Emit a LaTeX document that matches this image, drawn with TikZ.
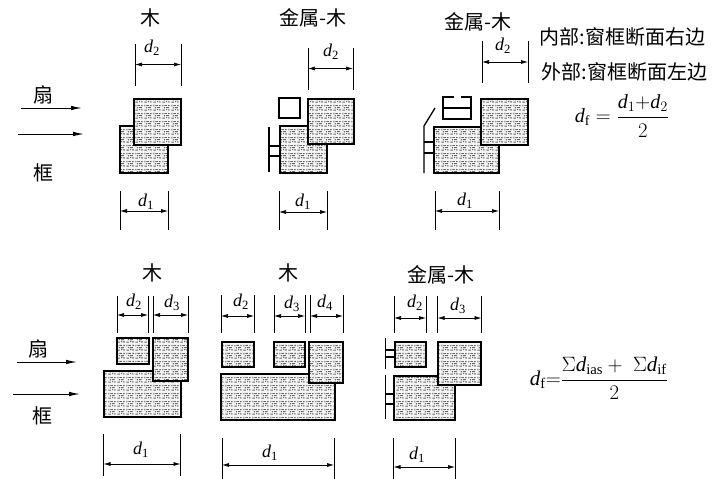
\documentclass[tikz,border=0pt]{standalone}
\usepackage{amsmath}
\usepackage{fontspec}
\setmainfont{Liberation Serif}
\newfontfamily\cjk{Noto Sans CJK SC}
\usetikzlibrary{patterns,arrows.meta}
\definecolor{hatchgray}{gray}{0.4}
\pgfdeclarepatternformonly{mottle}{\pgfqpoint{0pt}{0pt}}{\pgfqpoint{9pt}{8pt}}{\pgfqpoint{9pt}{8pt}}{
    \pgfpathrectangle{\pgfqpoint{0.5pt}{0.5pt}}{\pgfqpoint{2.6pt}{1pt}}
    \pgfpathrectangle{\pgfqpoint{4.5pt}{1pt}}{\pgfqpoint{1.2pt}{1.2pt}}
    \pgfpathrectangle{\pgfqpoint{7pt}{0.3pt}}{\pgfqpoint{1.2pt}{1.8pt}}
    \pgfpathrectangle{\pgfqpoint{2pt}{3pt}}{\pgfqpoint{1.2pt}{1.2pt}}
    \pgfpathrectangle{\pgfqpoint{4.2pt}{3.2pt}}{\pgfqpoint{3.2pt}{1pt}}
    \pgfpathrectangle{\pgfqpoint{0.3pt}{5.2pt}}{\pgfqpoint{1.2pt}{1.6pt}}
    \pgfpathrectangle{\pgfqpoint{2.6pt}{5.6pt}}{\pgfqpoint{2.8pt}{1pt}}
    \pgfpathrectangle{\pgfqpoint{6.8pt}{5.4pt}}{\pgfqpoint{1.6pt}{1.2pt}}
    \pgfusepath{fill}
}
\tikzset{
    section/.style={draw, line width=1.8pt, pattern=mottle, pattern color=hatchgray, preaction={fill=gray!8}, inner sep=0pt, outer sep=0pt},
    glassbox/.style={draw, line width=1.2pt, fill=white},
    title/.style={font=\cjk\fontsize{20}{20}\selectfont},
    dimtext/.style={font=\fontsize{18}{18}\selectfont\itshape, inner sep=0pt},
    formula/.style={font=\fontsize{20}{20}\selectfont, inner sep=0pt},
    extline/.style={line width=1pt},
    dimline/.style={line width=0.7pt, {Latex[length=7pt,width=4pt]}-{Latex[length=7pt,width=4pt]}},
    flow/.style={line width=1pt, -{Latex[length=11pt,width=4.5pt]}},
    metal/.style={line width=1.6pt}
}
\newcommand{\dsub}[1]{d\textsubscript{\upshape #1}}
% box from its corners, in pixels of the reference
\newcommand{\sectionbox}[5]{\node[section, minimum width=#4-#2, minimum height=#5-#3, anchor=north west] (#1) at (#2,#3) {};}
% dimension: name, left x, right x, top y, bottom y, arrow y, label, label x, label y
\newcommand{\dimmark}[9]{
    \coordinate (#1lt) at (#2,#4);
    \coordinate (#1lb) at (#2,#5);
    \coordinate (#1rt) at (#3,#4);
    \coordinate (#1rb) at (#3,#5);
    \coordinate (#1la) at (#2,#6);
    \coordinate (#1ra) at (#3,#6);
    \draw[extline] (#1lt) -- (#1lb);
    \draw[extline] (#1rt) -- (#1rb);
    \draw[dimline] (#1la) -- (#1ra);
    \node[dimtext] (#1txt) at (#8,#9) {#7};
}
\begin{document}
\begin{tikzpicture}[x=1pt,y=-1pt]
    \useasboundingbox (0,0) rectangle (716,479);

    % Top row
    \node[title] (t1) at (150,18) {木};
    \node[title] (t2) at (313,18) {金属-木};
    \node[title] (t3) at (478,22) {金属-木};

    \node[title] (fan1) at (43,95) {扇};
    \node[title] (frm1) at (43,173) {框};
    \coordinate (a1s) at (21,108);
    \coordinate (a1e) at (82,108);
    \coordinate (a2s) at (18,134);
    \coordinate (a2e) at (84,134);
    \draw[flow] (a1s) -- (a1e);
    \draw[flow] (a2s) -- (a2e);

    % wood
    \sectionbox{f1}{120}{126}{168}{173}
    \sectionbox{s1}{134}{99}{181}{145}
    \dimmark{da}{135}{181}{44}{86}{64.5}{\dsub{2}}{152}{48}
    \dimmark{db}{120}{168}{191}{230}{211}{\dsub{1}}{146}{202}

    % metal-wood
    \node[glassbox, minimum width=21pt, minimum height=20pt, inner sep=0pt, outer sep=0pt, anchor=north west] (g2) at (279,98) {};
    \sectionbox{f2}{280}{126}{327}{173}
    \sectionbox{s2}{308}{99}{354}{144}
    \coordinate (m2t) at (269,127);
    \coordinate (m2b) at (269,172);
    \coordinate (m2a) at (269,146);
    \coordinate (m2c) at (269,156);
    \draw[metal] (m2t) -- (m2b);
    \draw[metal] (m2a) -- (m2a -| f2.west);
    \draw[metal] (m2c) -- (m2c -| f2.west);
    \dimmark{dc}{308}{353}{48}{90}{68.5}{\dsub{2}}{331}{52}
    \dimmark{dd}{279}{327}{191}{230}{212}{\dsub{1}}{303}{202}

    % metal-wood with cap
    \sectionbox{f3}{434}{127}{499}{173}
    \sectionbox{s3}{481}{99}{528}{145}
    \coordinate (m3t) at (424,126);
    \coordinate (m3b) at (424,173);
    \coordinate (m3d) at (435,108);
    \coordinate (m3a) at (424,142);
    \coordinate (m3c) at (424,153);
    \draw[line width=1.3pt] (m3d) -- (m3t) -- (m3b);
    \draw[metal] (m3a) -- (m3a -| f3.west);
    \draw[metal] (m3c) -- (m3c -| f3.west);
    \coordinate (c1) at (454,97);
    \coordinate (c2) at (443,97);
    \coordinate (c3) at (443,119);
    \coordinate (c4) at (471,119);
    \coordinate (c5) at (471,97);
    \coordinate (c6) at (461,97);
    \coordinate (c7) at (443,108);
    \coordinate (c8) at (471,108);
    \draw[line width=1.3pt] (c1) -- (c2) -- (c3) -- (c4) -- (c5) -- (c6);
    \draw[line width=1.3pt] (c7) -- (c8);
    \dimmark{de}{482}{528}{41}{83}{62}{\dsub{2}}{503}{46}
    \dimmark{df}{435}{499}{191}{230}{211}{\dsub{1}}{465}{201}

    \node[title, anchor=west] (inner) at (536,37) {内部:窗框断面右边};
    \node[title, anchor=west] (outer) at (538,72) {外部:窗框断面左边};
    \node[formula] (eq1) at (622,116) {$\mathit{d}_{\mathrm{f}}=\dfrac{\mathit{d}_1{+}\mathit{d}_2}{2}$};

    % Bottom row
    \node[title] (t4) at (152,273) {木};
    \node[title] (t5) at (288,273) {木};
    \node[title] (t6) at (441,275) {金属-木};

    \node[title] (fan2) at (38,349) {扇};
    \node[title] (frm2) at (42,416) {框};
    \coordinate (a3s) at (17,362);
    \coordinate (a3e) at (77,362);
    \coordinate (a4s) at (13,394);
    \coordinate (a4e) at (80,394);
    \draw[flow] (a3s) -- (a3e);
    \draw[flow] (a4s) -- (a4e);

    % wood, two sashes
    \sectionbox{f4}{104}{371}{181}{417}
    \sectionbox{s4}{117}{338}{149}{364}
    \sectionbox{r4}{153}{338}{188}{381}
    \dimmark{dg}{117}{148}{296}{333}{315}{\dsub{2}}{134}{302}
    \dimmark{dh}{153}{188}{296}{333}{315}{\dsub{3}}{172}{303}
    \dimmark{di}{103.5}{180.5}{434}{476}{464}{\dsub{1}}{141}{450}

    % wood, three sashes
    \sectionbox{f5}{221}{374}{335}{420}
    \sectionbox{s5}{222}{342}{254}{367}
    \sectionbox{m5}{274}{342}{305}{367}
    \sectionbox{r5}{309}{342}{343}{383}
    \dimmark{dj}{221}{254}{295}{333}{316}{\dsub{2}}{241}{302}
    \dimmark{dk}{274}{305}{295}{333}{316}{\dsub{3}}{292}{304}
    \dimmark{dl}{310}{343}{295}{333}{316}{\dsub{4}}{325}{303}
    \dimmark{dm}{222}{334}{438}{479}{465}{\dsub{1}}{270}{453}

    % metal-wood, two sashes
    \sectionbox{f6}{394}{376}{455}{420}
    \sectionbox{s6}{395}{342}{426}{367}
    \sectionbox{r6}{438}{342}{481}{385}
    \coordinate (m6t) at (385.5,338);
    \coordinate (m6b) at (385.5,369);
    \coordinate (m6a) at (385.5,350);
    \coordinate (m6c) at (385.5,357);
    \coordinate (m6e) at (385.5,375);
    \coordinate (m6f) at (385.5,419);
    \coordinate (m6g) at (385.5,394);
    \coordinate (m6h) at (385.5,404);
    \draw[metal] (m6t) -- (m6b);
    \draw[metal] (m6e) -- (m6f);
    \draw[metal] (m6a) -- (m6a -| s6.west);
    \draw[metal] (m6c) -- (m6c -| s6.west);
    \draw[metal] (m6g) -- (m6g -| f6.west);
    \draw[metal] (m6h) -- (m6h -| f6.west);
    \dimmark{dn}{394}{426}{296}{333}{318}{\dsub{2}}{415}{303}
    \dimmark{do}{437.5}{481.5}{296}{333}{318}{\dsub{3}}{458}{306}
    \dimmark{dp}{393.5}{455}{438}{479}{467}{\dsub{1}}{417}{455}

    \node[formula, font=\fontsize{21}{21}\selectfont] (eq2) at (599,378) {$\mathit{d}_{\mathrm{f}}{=}\dfrac{\Sigma \mathit{d}_{\mathrm{ias}}+\;\Sigma \mathit{d}_{\mathrm{if}}}{2}$};
\end{tikzpicture}
\end{document}
